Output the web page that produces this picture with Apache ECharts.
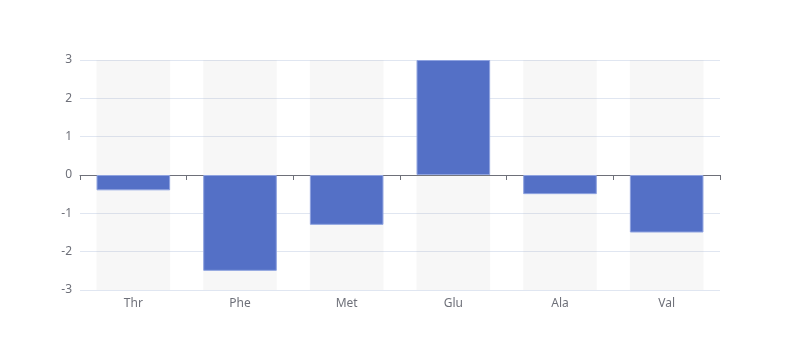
<!DOCTYPE html>
<html><head><meta charset="utf-8">
<script src="https://cdn.jsdelivr.net/npm/echarts@6/dist/echarts.min.js"></script>
<style>html,body{margin:0;padding:0;background:#fff}#c{width:800px;height:360px}</style>
</head><body><div id="c"></div>
<script>
const categories = ['Thr', 'Phe', 'Met', 'Glu', 'Ala', 'Val'];
const values = [-0.4, -2.5, -1.3, 3, -0.5, -1.5];
const yMin = -3, yMax = 3, yInterval = 1;

const chart = echarts.init(document.getElementById('c'), null, {renderer: 'canvas'});
chart.setOption({
  animation: false,
  textStyle: {fontFamily: 'Noto Sans'},
  grid: {left: 80, right: 80, top: 60, bottom: 70},
  xAxis: {
    type: 'category', data: categories,
    axisLine: {onZero: true, lineStyle: {color: '#6e7079'}},
    axisTick: {show: true, lineStyle: {color: '#6e7079'}},
    axisLabel: {color: '#6e7079', fontSize: 12, fontFamily: 'Noto Sans'}
  },
  yAxis: {
    type: 'value', min: yMin, max: yMax, interval: yInterval,
    axisLabel: {color: '#6e7079', fontSize: 12, fontFamily: 'Noto Sans'},
    splitLine: {lineStyle: {color: '#e0e6f1'}}
  },
  series: [{
    type: 'bar',
    data: values,
    barWidth: '69%',
    showBackground: true,
    backgroundStyle: {color: 'rgba(180,180,180,0.1)'},
    itemStyle: {color: '#5470c6', borderColor: '#8fa3e0', borderWidth: 1}
  }]
});
</script></body></html>
